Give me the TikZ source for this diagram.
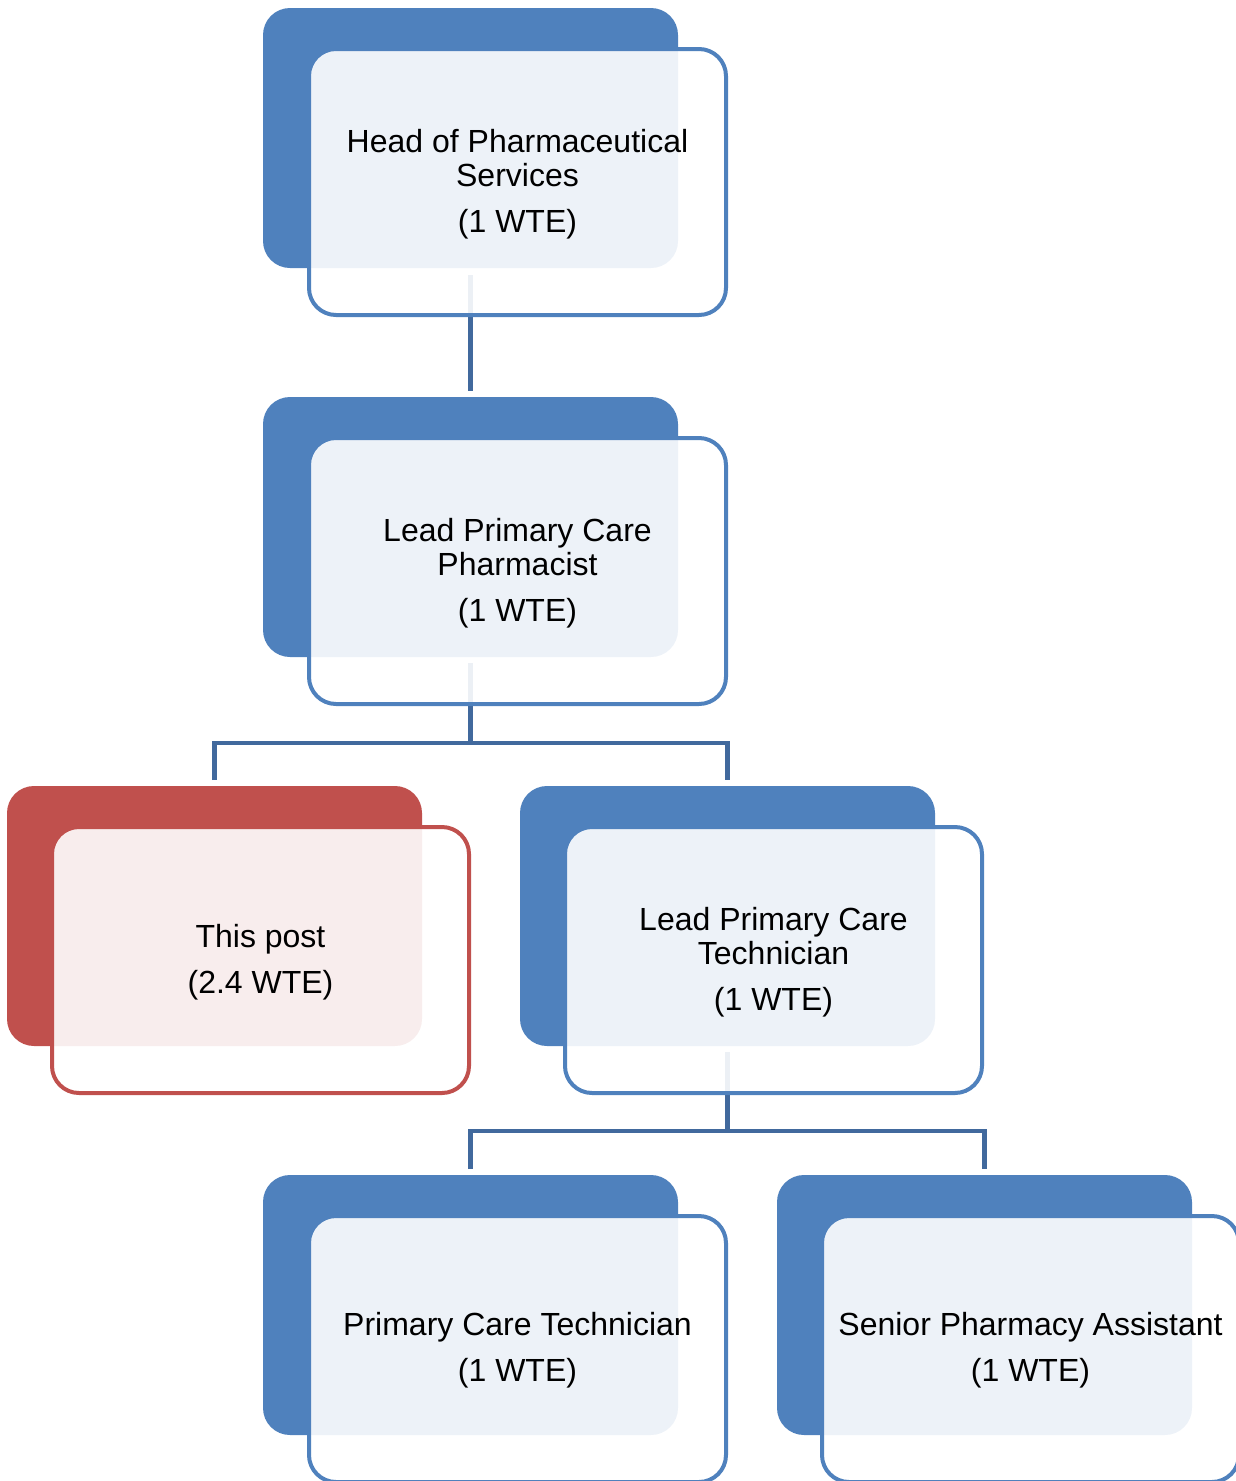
\documentclass[tikz,border=0pt]{standalone}
\usepackage{fontspec}
\setmainfont{Liberation Sans}
\definecolor{accblue}{HTML}{4F81BD}
\definecolor{accred}{HTML}{C0504D}
\definecolor{connblue}{HTML}{41699D}
\begin{document}
\begin{tikzpicture}[x=1pt,y=-1pt,
  backbox/.style={fill=#1, draw=none, rounded corners=27pt, anchor=north west,
    minimum width=415pt, minimum height=260pt, inner sep=0pt, outer sep=0pt},
  frontbox/.style={draw=#1, line width=4pt, fill=white, fill opacity=0.9, draw opacity=1,
    text opacity=1, rounded corners=27pt, anchor=north west,
    minimum width=417pt, minimum height=266pt, inner sep=0pt, outer sep=0pt},
  label/.style={align=center, font=\fontsize{32}{34}\selectfont, text=black},
  conn/.style={draw=connblue, line width=4.5pt}]
\useasboundingbox (0,0) rectangle (1236,1481);
\clip (0,0) rectangle (1236,1481);
% back boxes
\node[backbox=accblue] (b1) at (263,8) {};
\node[backbox=accblue] (b2) at (263,397) {};
\node[backbox=accred]  (b3) at (7,786) {};
\node[backbox=accblue] (b4) at (520,786) {};
\node[backbox=accblue] (b5) at (263,1175) {};
\node[backbox=accblue] (b6) at (777,1175) {};
% connectors
\coordinate (j1) at (470.5,743);
\coordinate (j2) at (727.5,1131);
\draw[conn] ([yshift=-7pt]b1.south) -- ([yshift=6pt]b2.north);
\draw[conn] ([yshift=-6pt]b2.south) -- (j1);
\draw[conn] ([yshift=6pt]b3.north) |- (j1) -| ([yshift=6pt]b4.north);
\draw[conn] ([yshift=-6pt]b4.south) -- (j2);
\draw[conn] ([yshift=6pt]b5.north) |- (j2) -| ([yshift=6pt]b6.north);
% front boxes
\node[frontbox=accblue] (f1) at (309,49) {};
\node[frontbox=accblue] (f2) at (309,438) {};
\node[frontbox=accred]  (f3) at (52,827) {};
\node[frontbox=accblue] (f4) at (565,827) {};
\node[frontbox=accblue] (f5) at (309,1216) {};
\node[frontbox=accblue] (f6) at (822,1216) {};
% labels
\node[label] (t1) at ([yshift=-2pt]f1.center) {Head of Pharmaceutical\\Services\\[12pt](1 WTE)};
\node[label] (t2) at ([yshift=-2pt]f2.center) {Lead Primary Care\\Pharmacist\\[12pt](1 WTE)};
\node[label] (t3) at ([yshift=-2pt]f3.center) {This post\\[12pt](2.4 WTE)};
\node[label] (t4) at ([yshift=-2pt]f4.center) {Lead Primary Care\\Technician\\[12pt](1 WTE)};
\node[label] (t5) at ([yshift=-1pt]f5.center) {Primary Care Technician\\[12pt](1 WTE)};
\node[label] (t6) at ([yshift=-1pt]f6.center) {Senior Pharmacy Assistant\\[12pt](1 WTE)};
\end{tikzpicture}
\end{document}
